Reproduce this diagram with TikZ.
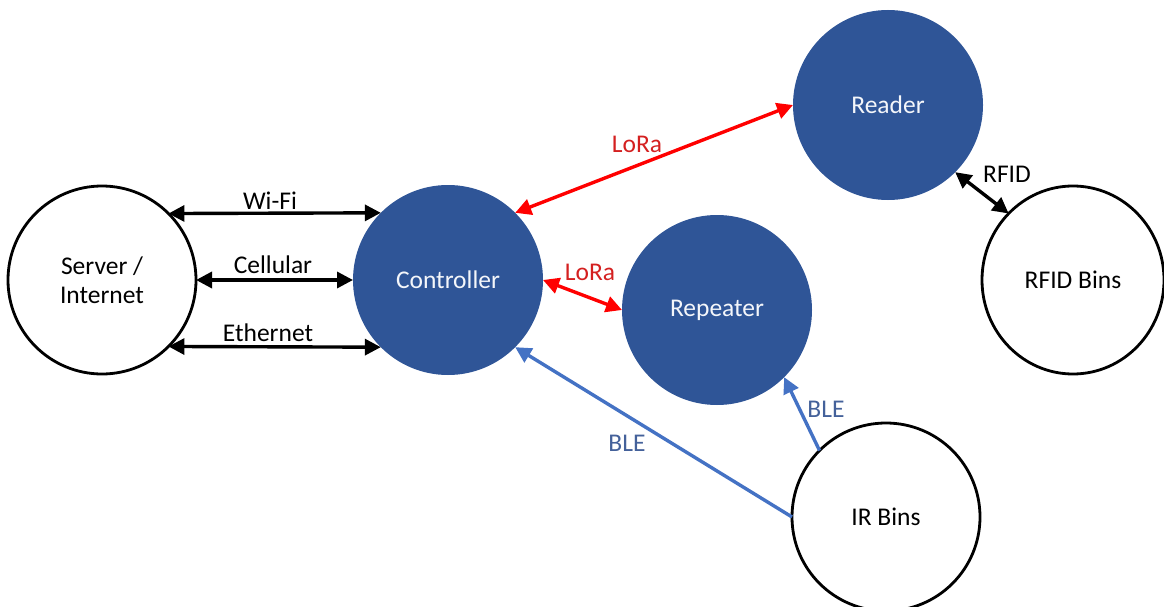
\documentclass[tikz,border=0pt]{standalone}
\usepackage{fontspec}
\setmainfont{Carlito}
\usetikzlibrary{arrows.meta,shapes.geometric}
\definecolor{nodeblue}{HTML}{2F5597}
\definecolor{nodetext}{HTML}{F4F6FA}
\definecolor{lorared}{HTML}{FF0000}
\definecolor{loratext}{HTML}{D42020}
\definecolor{bleblue}{HTML}{4472C4}
\definecolor{bletext}{HTML}{44619A}
\begin{document}
\begin{tikzpicture}[x=1pt,y=-1pt,
  font=\fontsize{25.5}{30}\selectfont,
  >={Triangle[length=16pt,width=16pt]},
  filled/.style={circle,fill=nodeblue,text=nodetext,minimum size=190pt,inner sep=0pt,outer sep=0pt},
  hollow/.style={circle,draw=black,line width=2.8pt,fill=white,minimum size=188pt,inner sep=0pt,outer sep=0pt,align=center},
  blk/.style={line width=3.4pt,black},
  lora/.style={line width=3.4pt,lorared},
  ble/.style={line width=3.4pt,bleblue},
  lbl/.style={inner sep=0pt}
]
\useasboundingbox (0,0) rectangle (1164,607);
\node[hollow] (server) at (102,280) {Server /\\[-1pt]Internet};
\node[filled] (controller) at (448,280) {Controller};
\node[filled] (reader) at (888,105) {Reader};
\node[filled] (repeater) at (717,310) {Repeater};
\node[hollow,ellipse,minimum width=182pt,minimum height=188pt] (rfidbins) at (1073,280) {RFID Bins};
\node[hollow] (irbins) at (886,517) {IR Bins};

\draw[blk,<->] (server.45) -- (controller.135);
\draw[blk,<->] (server.east) -- (controller.west);
\draw[blk,<->] (server.-45) -- (controller.-135);
\draw[lora,<->] (controller.45) -- (reader.west);
\draw[lora,<->] (controller.east) -- (repeater.west);
\draw[blk,<->] (reader.-45) -- (rfidbins.north west);
\draw[ble,->] (irbins.west) -- (controller.-45);
\draw[ble,->] (irbins.135) -- (repeater.-45);

\node[lbl] (wifi) at (270,201) {Wi-Fi};
\node[lbl] (cell) at (273,265) {Cellular};
\node[lbl] (eth) at (268,333) {Ethernet};
\node[lbl,text=loratext] (lora1) at (637,144) {LoRa};
\node[lbl,text=loratext] (lora2) at (590,272) {LoRa};
\node[lbl] (rfid) at (1007,174) {RFID};
\node[lbl,text=bletext] (ble1) at (826,409) {BLE};
\node[lbl,text=bletext] (ble2) at (627,443) {BLE};
\end{tikzpicture}
\end{document}
